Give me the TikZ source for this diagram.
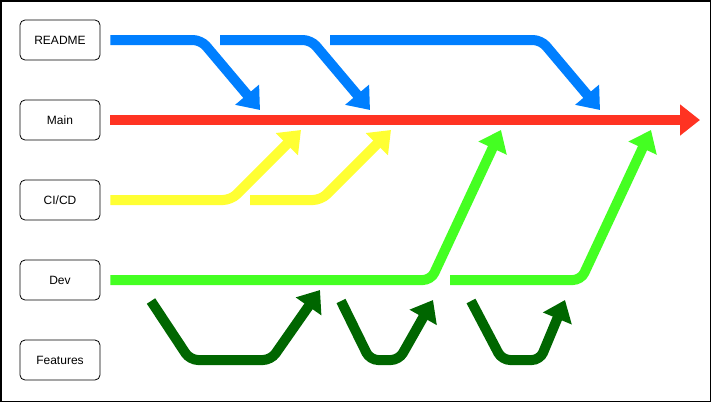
\documentclass[tikz,border=0pt]{standalone}
\usepackage{fontspec}
\setmainfont{Liberation Sans}
\usetikzlibrary{arrows.meta}
\definecolor{readmeblue}{RGB}{0,127,255}
\definecolor{mainred}{RGB}{255,51,34}
\definecolor{ciyellow}{RGB}{255,255,51}
\definecolor{devgreen}{RGB}{68,255,34}
\definecolor{featgreen}{RGB}{0,102,0}
\begin{document}
\begin{tikzpicture}[x=1pt,y=-1pt,
	lane/.style={draw,rounded corners=5pt,minimum width=80pt,
		minimum height=40pt,line width=0.8pt,
		font=\fontsize{12}{14}\selectfont},
	branch/.style={line width=10pt,rounded corners=8pt,
		-{Triangle[length=20pt,width=30pt]}}]
	\useasboundingbox (0,0) rectangle (711,402);
	\draw[line width=1.5pt] (0.75,0.75) rectangle (710.25,401.25);
	\foreach \y/\nm/\texn in {40/readme/README,120/main/Main,
		200/cicd/{CI/CD},280/dev/Dev,360/features/Features}
	\path (60,\y) node[lane](\nm){\texn};
	\draw[branch,readmeblue] ([xshift=10pt]readme.east)--(201,40)--(260,110);
	\draw[branch,readmeblue] (220,40)--(311,40)--(370,110);
	\draw[branch,readmeblue] (330,40)--(541,40)--(600,110);
	\draw[branch,mainred] ([xshift=10pt]main.east)--(700,120);
	\draw[branch,ciyellow] ([xshift=10pt]cicd.east)--(231,200)--(301,130);
	\draw[branch,ciyellow] (250,200)--(321,200)--(391,130);
	\draw[branch,devgreen] ([xshift=10pt]dev.east)--(431,280)--(501,130);
	\draw[branch,devgreen] (450,280)--(581,280)--(651,130);
	\draw[branch,featgreen] (151,301)--(190,360)--(271,360)--(320,290);
	\draw[branch,featgreen] (341,301)--(370,360)--(399,360)--(433,300);
	\draw[branch,featgreen] (471,301)--(502,360)--(540,360)--(565,300);
\end{tikzpicture}
\end{document}
